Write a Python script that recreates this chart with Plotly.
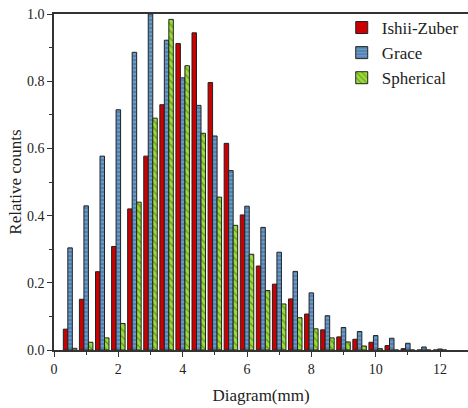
import plotly.graph_objects as go

diam = [0.5, 1.0, 1.5, 2.0, 2.5, 3.0, 3.5, 4.0, 4.5, 5.0, 5.5, 6.0,
        6.5, 7.0, 7.5, 8.0, 8.5, 9.0, 9.5, 10.0, 10.5, 11.0, 11.5, 12.0]
ishii = [0.062, 0.151, 0.233, 0.308, 0.420, 0.577, 0.730, 0.912, 0.944, 0.796, 0.615, 0.402,
         0.250, 0.196, 0.152, 0.107, 0.060, 0.039, 0.032, 0.023, 0.013, 0.004, 0.0, 0.0]
grace = [0.304, 0.429, 0.577, 0.715, 0.886, 1.000, 0.922, 0.810, 0.728, 0.637, 0.534, 0.428,
         0.365, 0.291, 0.234, 0.170, 0.102, 0.067, 0.055, 0.043, 0.035, 0.020, 0.009, 0.003]
spherical = [0.005, 0.023, 0.036, 0.079, 0.440, 0.690, 0.984, 0.846, 0.645, 0.455, 0.371, 0.285,
             0.177, 0.137, 0.096, 0.063, 0.036, 0.024, 0.012, 0.004, 0.0, 0.0, 0.0, 0.0]

FONT = "Liberation Serif"

fig = go.Figure()
fig.add_trace(go.Bar(x=diam, y=ishii, name="Ishii-Zuber",
                     marker=dict(color="#cc0000", line=dict(color="#222", width=1))))
fig.add_trace(go.Bar(x=diam, y=grace, name="Grace",
                     marker=dict(color="#6699cc", line=dict(color="#222", width=1),
                                 pattern=dict(shape="-", fgcolor="#223344", size=4,
                                              solidity=0.25, fillmode="overlay"))))
fig.add_trace(go.Bar(x=diam, y=spherical, name="Spherical",
                     marker=dict(color="#99dd33", line=dict(color="#222", width=1),
                                 pattern=dict(shape="\\", fgcolor="#334422", size=5,
                                              solidity=0.25, fillmode="overlay"))))

fig.update_layout(
    width=468, height=408,
    margin=dict(l=54, r=0, t=14, b=58),
    barmode="group", bargap=0.16, bargroupgap=0.0,
    plot_bgcolor="white", paper_bgcolor="white",
    font=dict(family=FONT, size=14, color="#222"),
    legend=dict(x=0.695, y=1.012, xanchor="left", yanchor="top",
                font=dict(family=FONT, size=17, color="#222"),
                bgcolor="rgba(0,0,0,0)", tracegroupgap=0, itemwidth=30),
    showlegend=True,
)
fig.update_xaxes(range=[0, 12.87], tickvals=[0, 2, 4, 6, 8, 10, 12],
                 ticks="outside", ticklen=5, tickwidth=1, tickcolor="#333",
                 minor=dict(tickvals=[1, 3, 5, 7, 9, 11], ticks="outside", ticklen=3, tickcolor="#333"),
                 showline=True, linecolor="#333", linewidth=1.5, mirror=True,
                 showgrid=False, zeroline=False,
                 title=dict(text="Diagram(mm)", font=dict(family=FONT, size=17), standoff=14),
                 tickfont=dict(family=FONT, size=14))
fig.update_yaxes(range=[0, 1.0], tickvals=[0, 0.2, 0.4, 0.6, 0.8, 1.0], tickformat=".1f",
                 ticks="outside", ticklen=5, tickwidth=1, tickcolor="#333",
                 minor=dict(tickvals=[0.1, 0.3, 0.5, 0.7, 0.9], ticks="outside", ticklen=3, tickcolor="#333"),
                 showline=True, linecolor="#333", linewidth=1.5,
                 showgrid=False, zeroline=False,
                 title=dict(text="Relative counts", font=dict(family=FONT, size=17), standoff=1),
                 tickfont=dict(family=FONT, size=14))

fig.write_html("out.html")
